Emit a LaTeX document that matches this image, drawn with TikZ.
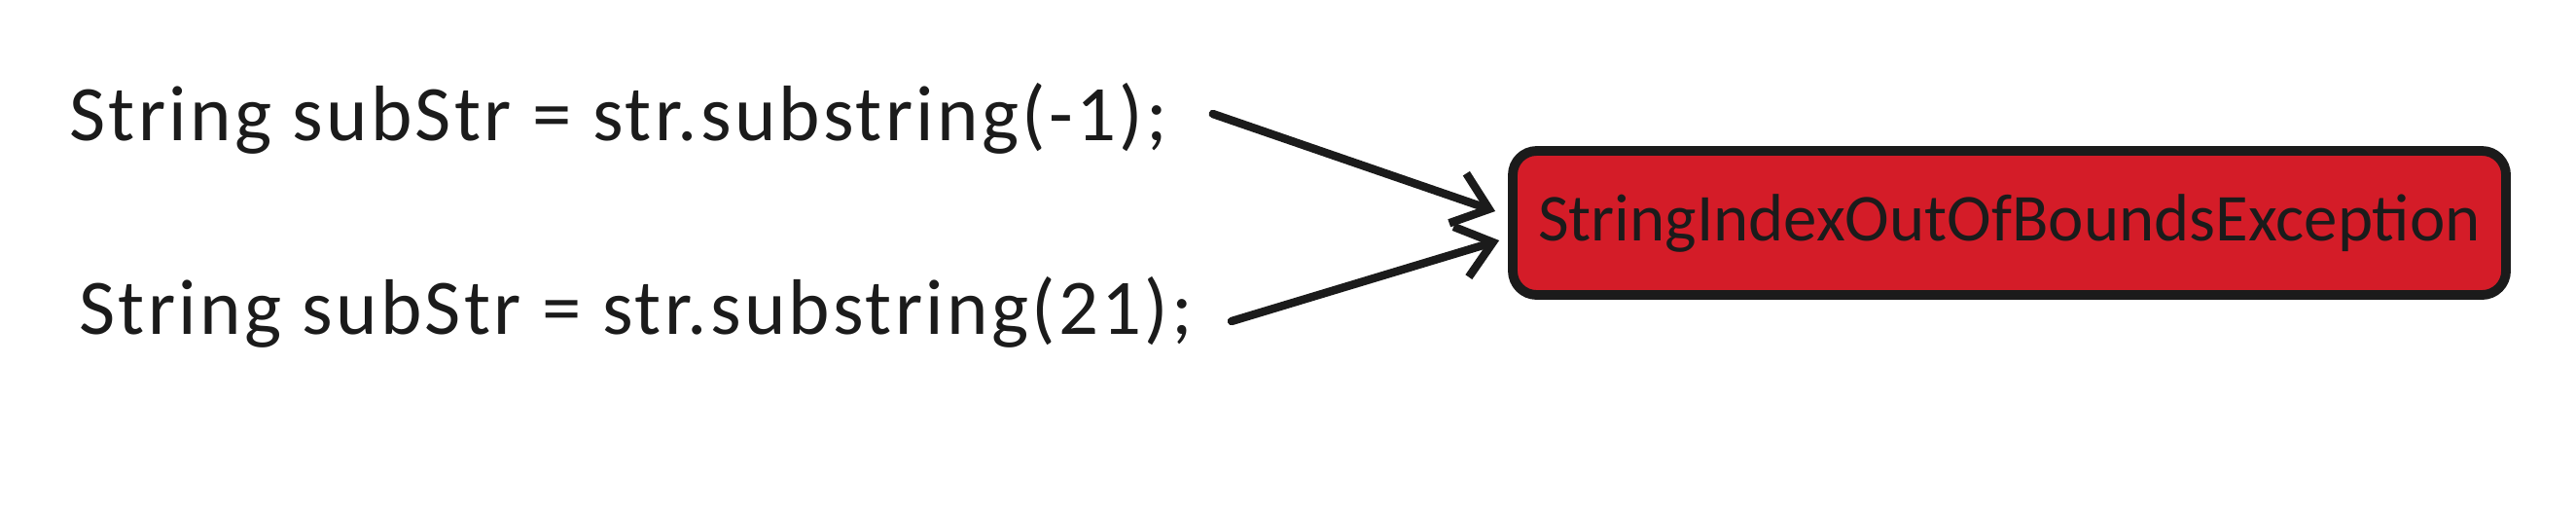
\documentclass[tikz,border=0pt]{standalone}
\usepackage{fontspec}
\setmainfont{Carlito}
\usepackage{xcolor}
\usepackage{tikz}
\usetikzlibrary{arrows.meta}
\definecolor{excred}{RGB}{212,28,40}
\definecolor{inkblack}{RGB}{27,27,27}
\tikzset{
  code/.style={anchor=west,inner sep=0pt,font=\fontsize{23}{27}\selectfont\addfontfeatures{LetterSpace=4},text=inkblack},
  exc/.style={draw=inkblack,fill=excred,line width=2.8pt,rounded corners=7pt,inner sep=0pt,
    minimum width=10.21cm,minimum height=1.48cm,font=\fontsize{19.6}{24}\selectfont,text=inkblack},
  arr/.style={draw=inkblack,line width=2.4pt,line cap=round,-{Straight Barb[length=3.4mm,width=5.4mm,line width=2.4pt]}}
}

\begin{document}
\begin{tikzpicture}
\useasboundingbox (0,0) rectangle (26.48,-5.24);
\node[code] (sub1) at (0.71,-1.22) {String subStr = str.substring(-1);};
\node[code] (sub2) at (0.81,-3.21) {String subStr = str.substring(21);};
\node[exc] (sioobe) at (20.655,-2.29) {StringIndexOutOfBoundsException};
\draw[arr] ([xshift=0.46cm,yshift=0.05cm]sub1.east) -- ([xshift=-0.13cm,yshift=0.12cm]sioobe.west);
\draw[arr] ([xshift=0.39cm,yshift=-0.09cm]sub2.east) -- ([xshift=-0.09cm,yshift=-0.18cm]sioobe.west);
\end{tikzpicture}
\end{document}
